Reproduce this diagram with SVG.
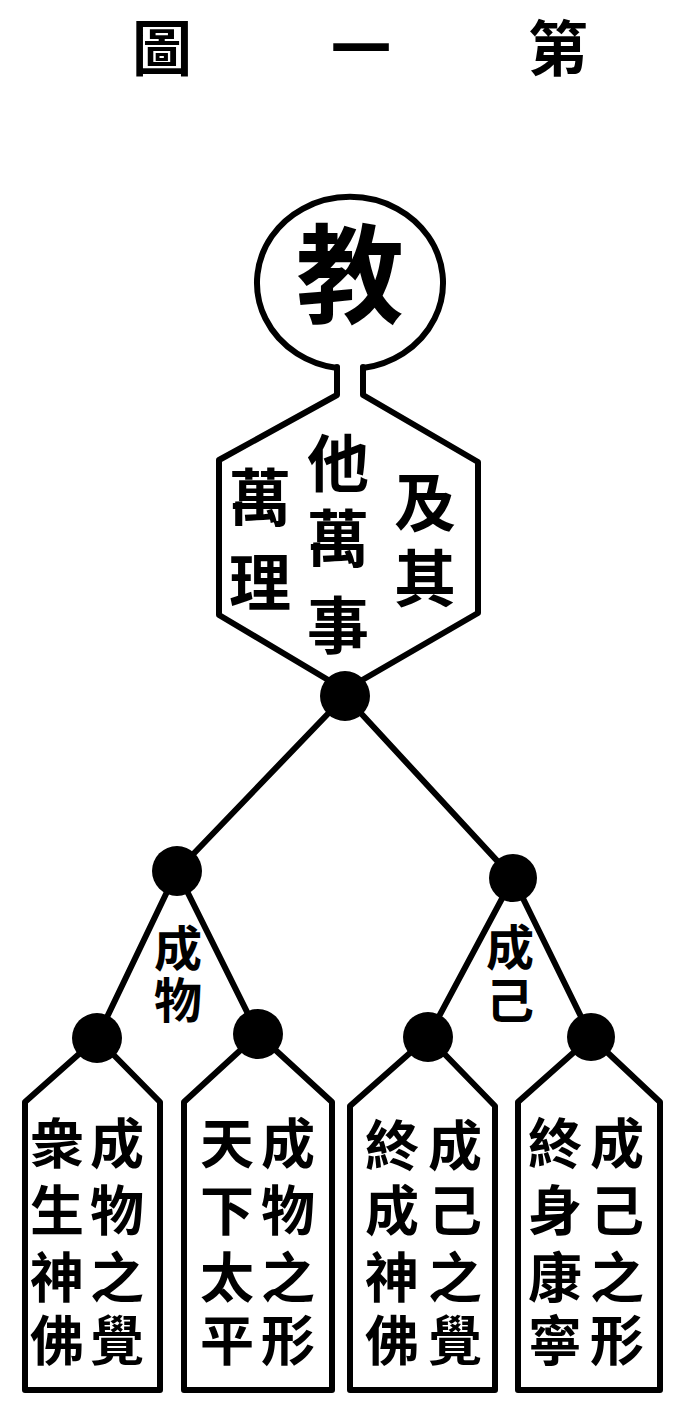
<svg xmlns="http://www.w3.org/2000/svg" width="674" height="1407" viewBox="0 0 674 1407">
<style>
.bg{fill:#ffffff}
.outline{fill:#ffffff;stroke:#000;stroke-width:6;stroke-linejoin:round;stroke-linecap:round}
.line{fill:none;stroke:#000;stroke-width:6;stroke-linecap:round}
.dot{fill:#000}
text{font-family:"Noto Sans CJK TC","Noto Sans CJK SC",sans-serif;font-weight:bold;fill:#000;text-anchor:middle;dominant-baseline:central}
.col{writing-mode:vertical-rl}
.title{font-size:60px}
.big{font-size:108px}
.hex{font-size:62px}
.lbl{font-size:48px}
.box{font-size:54px}
</style>
<rect class="bg" x="0" y="0" width="674" height="1407"/>

<g id="title">
<text class="title" x="162" y="44">圖</text>
<text class="title" x="361" y="44">一</text>
<text class="title" x="558" y="44">第</text>
</g>

<g id="connectors">
<line class="line" x1="345" y1="696" x2="177" y2="871"/>
<line class="line" x1="345" y1="696" x2="513" y2="878"/>
<line class="line" x1="177" y1="871" x2="97" y2="1038"/>
<line class="line" x1="177" y1="871" x2="258" y2="1034"/>
<line class="line" x1="513" y1="878" x2="428" y2="1037"/>
<line class="line" x1="513" y1="878" x2="591" y2="1037"/>
</g>

<g id="node-jiao">
<path class="outline" d="M337,368 A93,86 0 1 1 363,368"/>
<text class="big" x="350" y="268">教</text>
</g>

<g id="node-wanshi">
<path class="outline" d="M337,367 L337,395 L219,460 L219,615 L345,690 L478,613 L478,462 L363,395 L363,367"/>
<text class="hex col"><tspan x="425" y="502">及</tspan><tspan x="425" y="578">其</tspan></text>
<text class="hex col"><tspan x="338" y="463">他</tspan><tspan x="338" y="538">萬</tspan><tspan x="338" y="625">事</tspan></text>
<text class="hex col"><tspan x="260" y="497">萬</tspan><tspan x="260" y="582">理</tspan></text>
</g>

<g id="label-chengwu">
<text class="lbl col"><tspan x="178" y="948">成</tspan><tspan x="178" y="1000">物</tspan></text>
</g>
<g id="label-chengji">
<text class="lbl col"><tspan x="510" y="947">成</tspan><tspan x="510" y="1000">己</tspan></text>
</g>

<g id="node-box1">
<path class="outline" d="M97,1038 L160,1102 L160,1390 L25,1390 L25,1102 Z"/>
<text class="box col"><tspan x="117" y="1143">成</tspan><tspan x="117" y="1210">物</tspan><tspan x="117" y="1277">之</tspan><tspan x="117" y="1340">覺</tspan></text>
<text class="box col"><tspan x="57" y="1143">衆</tspan><tspan x="57" y="1210">生</tspan><tspan x="57" y="1277">神</tspan><tspan x="57" y="1340">佛</tspan></text>
</g>

<g id="node-box2">
<path class="outline" d="M258,1034 L332,1102 L332,1390 L184,1390 L184,1102 Z"/>
<text class="box col"><tspan x="288" y="1143">成</tspan><tspan x="288" y="1210">物</tspan><tspan x="288" y="1277">之</tspan><tspan x="288" y="1340">形</tspan></text>
<text class="box col"><tspan x="227" y="1143">天</tspan><tspan x="227" y="1210">下</tspan><tspan x="227" y="1277">太</tspan><tspan x="227" y="1340">平</tspan></text>
</g>

<g id="node-box3">
<path class="outline" d="M428,1037 L495,1106 L495,1390 L350,1390 L350,1106 Z"/>
<text class="box col"><tspan x="455" y="1145">成</tspan><tspan x="455" y="1210">己</tspan><tspan x="455" y="1277">之</tspan><tspan x="455" y="1340">覺</tspan></text>
<text class="box col"><tspan x="392" y="1145">終</tspan><tspan x="392" y="1210">成</tspan><tspan x="392" y="1277">神</tspan><tspan x="392" y="1340">佛</tspan></text>
</g>

<g id="node-box4">
<path class="outline" d="M591,1037 L660,1102 L660,1390 L518,1390 L518,1102 Z"/>
<text class="box col"><tspan x="617" y="1143">成</tspan><tspan x="617" y="1210">己</tspan><tspan x="617" y="1277">之</tspan><tspan x="617" y="1340">形</tspan></text>
<text class="box col"><tspan x="555" y="1143">終</tspan><tspan x="555" y="1210">身</tspan><tspan x="555" y="1277">康</tspan><tspan x="555" y="1340">寧</tspan></text>
</g>

<g id="junctions">
<circle class="dot" cx="345" cy="696" r="25"/>
<circle class="dot" cx="177" cy="871" r="25"/>
<circle class="dot" cx="513" cy="878" r="24"/>
<circle class="dot" cx="97" cy="1038" r="25"/>
<circle class="dot" cx="258" cy="1034" r="25"/>
<circle class="dot" cx="428" cy="1037" r="25"/>
<circle class="dot" cx="591" cy="1037" r="24"/>
</g>
</svg>
